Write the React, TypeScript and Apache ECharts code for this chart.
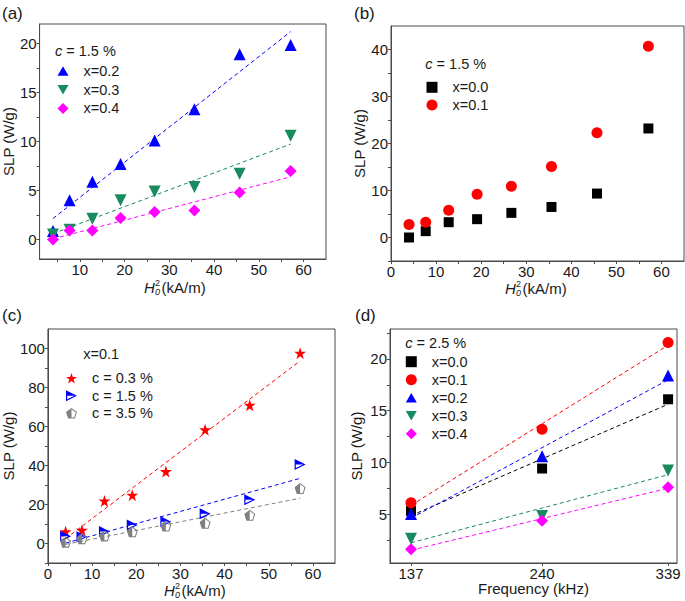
import React, { useEffect, useRef } from "react";
import * as echarts from "echarts";

// ---------- data ----------
const H2 = [4, 7.7, 12.8, 19.1, 26.7, 35.6, 45.7, 57.1];

// (a) c = 1.5 %
const aX02 = [0.85, 4.0, 5.9, 7.7, 10.1, 13.3, 18.9, 19.85];
const aX03 = [0.5, 1.0, 2.1, 4.0, 4.9, 5.35, 6.7, 10.6];
const aX04 = [0.0, 0.9, 0.9, 2.2, 2.8, 2.95, 4.8, 7.0];

// (b) c = 1.5 %
const bX00 = [0.0, 1.35, 3.26, 3.9, 5.24, 6.5, 9.35, 23.2];
const bX01 = [2.76, 3.26, 5.8, 9.2, 10.9, 15.1, 22.3, 40.7];

// (c) x = 0.1
const cC03 = [6.1, 6.8, 21.8, 24.8, 36.9, 58.3, 70.9, 97.6];
const cC15 = [3.7, 3.4, 6.1, 9.5, 11.2, 15.3, 22.4, 40.5];
const cC35 = [0.7, 2.4, 3.9, 6.0, 9.0, 10.4, 14.5, 28.2];

// (d) c = 2.5 %
const FREQ = [137, 240, 339];
const dX00 = [5.3, 9.4, 16.1];
const dX01 = [6.1, 13.2, 21.6];
const dX02 = [5.0, 10.6, 18.4];
const dX03 = [2.6, 4.8, 9.2];
const dX04 = [1.6, 4.35, 7.6];

// tick labels
const H_LABELS_A = [10, 20, 30, 40, 50, 60];
const H_LABELS = [0, 10, 20, 30, 40, 50, 60];
const H_TICKS = [0, 5, 10, 15, 20, 25, 30, 35, 40, 45, 50, 55, 60];
const YA_LABELS = [0, 5, 10, 15, 20];
const YA_TICKS = [-2.5, 0, 2.5, 5, 7.5, 10, 12.5, 15, 17.5, 20];
const YB_LABELS = [0, 10, 20, 30, 40];
const YB_TICKS = [-5, 0, 5, 10, 15, 20, 25, 30, 35, 40];
const YC_LABELS = [0, 20, 40, 60, 80, 100];
const YC_TICKS = [-10, 0, 10, 20, 30, 40, 50, 60, 70, 80, 90, 100];
const YD_LABELS = [5, 10, 15, 20];
const YD_TICKS = [2.5, 5, 7.5, 10, 12.5, 15, 17.5, 20, 22.5];

// ---------- styles ----------
const FONT = '"Liberation Sans", Arial, sans-serif';
const TXT = "#1a1a1a";
const FRAME = "#4a4a4a";
const BLUE = "#0000ff";
const GREEN = "#178a5e";
const MAGENTA = "#ff00ff";
const RED = "#ff0000";
const BLACK = "#000000";
const GRAY = "#808080";

const UP_TRI = "path://M6 0 L12 10.4 L0 10.4 Z";
const DOWN_TRI = "path://M0 0 L12 0 L6 10.4 Z";
const STAR =
  "path://M12 0 L14.9 8.6 L24 8.6 L16.6 14 L19.4 22.8 L12 17.4 L4.6 22.8 L7.4 14 L0 8.6 L9.1 8.6 Z";
const HALF_TRI =
  "path://M0 0 L12 6 L0 12 Z M1.3 2.3 L1.3 9.7 L9.3 6 Z M0 0 L12 6 L0 6 Z";
const HALF_PENT =
  "path://M6 0 L11.71 4.15 L9.53 10.85 L2.47 10.85 L0.29 4.15 Z " +
  "M6 1.3 L1.53 4.55 L3.25 9.8 L8.75 9.8 L10.47 4.55 Z " +
  "M6 0 L6 10.85 L2.47 10.85 L0.29 4.15 Z";

const ICONS: Record<string, string> = {
  "x=0.0": "rect",
  "x=0.1": "circle",
  "x=0.2": UP_TRI,
  "x=0.3": DOWN_TRI,
  "x=0.4": "diamond",
  "c = 0.3 %": STAR,
  "c = 1.5 %": HALF_TRI,
  "c = 3.5 %": HALF_PENT,
};

function zip(xs: number[], ys: number[]) {
  return xs.map((x, i) => [x, ys[i]]);
}

function fit(xs: number[], ys: number[]) {
  const n = xs.length;
  const mx = xs.reduce((s, v) => s + v, 0) / n;
  const my = ys.reduce((s, v) => s + v, 0) / n;
  let sxy = 0;
  let sxx = 0;
  for (let i = 0; i < n; i++) {
    sxy += (xs[i] - mx) * (ys[i] - my);
    sxx += (xs[i] - mx) * (xs[i] - mx);
  }
  const k = sxy / sxx;
  const x0 = xs[0];
  const x1 = xs[n - 1];
  return [
    [x0, my + k * (x0 - mx)],
    [x1, my + k * (x1 - mx)],
  ];
}

function axis(
  gridIndex: number,
  min: number,
  max: number,
  labels: number[],
  ticks: number[],
  extra: any = {}
) {
  return {
    type: "value",
    gridIndex,
    min,
    max,
    splitLine: { show: false },
    axisLine: { show: true, onZero: false, lineStyle: { color: FRAME, width: 1 } },
    axisTick: {
      show: true,
      inside: false,
      length: 3,
      customValues: ticks,
      lineStyle: { color: FRAME, width: 1 },
    },
    axisLabel: {
      customValues: labels,
      color: TXT,
      fontSize: 15,
      lineHeight: 14,
      fontFamily: FONT,
      margin: 3,
    },
    ...extra,
  };
}

function yName(gap: number) {
  return {
    name: "SLP (W/g)",
    nameLocation: "middle",
    nameRotate: 90,
    nameGap: gap,
    nameTextStyle: { color: TXT, fontSize: 15, fontFamily: FONT },
  };
}

function scatter(
  name: string,
  xi: number,
  xs: number[],
  ys: number[],
  size: number,
  color: string
) {
  return {
    type: "scatter",
    name,
    xAxisIndex: xi,
    yAxisIndex: xi,
    data: zip(xs, ys),
    symbol: ICONS[name],
    symbolSize: size,
    itemStyle: { color, opacity: 1 },
    z: 5,
  };
}

function fitLine(id: string, xi: number, xs: number[], ys: number[], color: string) {
  return {
    type: "line",
    name: id,
    xAxisIndex: xi,
    yAxisIndex: xi,
    data: fit(xs, ys),
    symbol: "none",
    silent: true,
    lineStyle: { color, width: 1, type: [4, 3] },
    z: 3,
  };
}

function hTitle(x: number, y: number) {
  return [
    {
      type: "text",
      x,
      y,
      style: {
        text: "H",
        font: `italic 15px ${FONT}`,
        lineHeight: 14,
        fill: TXT,
        textVerticalAlign: "middle",
      },
    },
    {
      type: "text",
      x: x + 11,
      y: y + 0.5,
      style: {
        text: "{s|2}\n{i|0}",
        font: `9px ${FONT}`,
        fill: TXT,
        textVerticalAlign: "middle",
        rich: {
          s: { fontSize: 9, fontFamily: FONT, fill: TXT, lineHeight: 9 },
          i: { fontSize: 9, fontFamily: FONT, fontStyle: "italic", fill: TXT, lineHeight: 9 },
        },
      },
    },
    {
      type: "text",
      x: x + 17.5,
      y,
      style: {
        text: "(kA/m)",
        font: `15px ${FONT}`,
        lineHeight: 14,
        fill: TXT,
        textVerticalAlign: "middle",
      },
    },
  ];
}

function label(text: string, x: number, y: number, size = 17) {
  return {
    type: "text",
    x,
    y,
    style: { text, font: `${size}px ${FONT}`, fill: TXT, textVerticalAlign: "middle" },
  };
}

function legTitle(text: string, x: number, y: number) {
  return {
    type: "text",
    x,
    y,
    style: {
      text,
      font: `14.5px ${FONT}`,
      fill: TXT,
      textVerticalAlign: "middle",
      rich: { i: { fontStyle: "italic", fontSize: 14.5, fontFamily: FONT, fill: TXT } },
    },
  };
}

function legend(names: string[], left: number, top: number, gap: number) {
  return {
    data: names.map((n) => ({ name: n, icon: ICONS[n] })),
    orient: "vertical",
    left,
    top,
    padding: 0,
    itemGap: gap,
    itemWidth: 11,
    itemHeight: 11,
    selectedMode: false,
    textStyle: {
      color: TXT,
      fontSize: 14.5,
      fontFamily: FONT,
      lineHeight: 16,
      padding: [0, 0, 0, 10],
    },
  };
}

export default function App() {
  const ref = useRef<HTMLDivElement>(null);
  useEffect(() => {
    if (!ref.current) return;
    const chart = echarts.init(ref.current, undefined, { renderer: "svg" });
    const gridBase = { show: true, borderColor: FRAME, borderWidth: 1, backgroundColor: "transparent" };
    const option: any = {
      animation: false,
      backgroundColor: "#ffffff",
      grid: [
        { ...gridBase, left: 35, top: 24, width: 291, height: 235 },
        { ...gridBase, left: 391, top: 26, width: 293, height: 235 },
        { ...gridBase, left: 42, top: 329, width: 293, height: 234 },
        { ...gridBase, left: 390, top: 329, width: 287, height: 234 },
      ],
      xAxis: [
        axis(0, 1, 65, H_LABELS_A, H_TICKS),
        axis(1, 0, 65, H_LABELS, H_TICKS),
        axis(2, 0, 65, H_LABELS, H_TICKS),
        axis(3, 120.5, 346, FREQ, FREQ, {
          name: "Frequency (kHz)",
          nameLocation: "middle",
          nameGap: 17,
          nameTextStyle: { color: TXT, fontSize: 15, lineHeight: 14, fontFamily: FONT },
        }),
      ],
      yAxis: [
        axis(0, -2, 22, YA_LABELS, YA_TICKS, yName(17)),
        axis(1, -5, 45, YB_LABELS, YB_TICKS, yName(18)),
        axis(2, -10, 110, YC_LABELS, YC_TICKS, yName(21)),
        axis(3, 0.26, 22.9, YD_LABELS, YD_TICKS, yName(26)),
      ],
      legend: [
        legend(["x=0.2", "x=0.3", "x=0.4"], 57.5, 63, 2.7),
        legend(["x=0.0", "x=0.1"], 426.5, 79.3, 1.7),
        legend(["c = 0.3 %", "c = 1.5 %", "c = 3.5 %"], 66, 370.3, 1.5),
        legend(["x=0.0", "x=0.1", "x=0.2", "x=0.3", "x=0.4"], 405.8, 353.7, 2),
      ],
      graphic: [
        label("(a)", 2, 13),
        label("(b)", 354, 13),
        label("(c)", 2, 315),
        label("(d)", 355, 315),
        legTitle("{i|c} = 1.5 %", 55, 50.7),
        legTitle("{i|c} = 1.5 %", 425.3, 64.3),
        legTitle("x=0.1", 83.3, 354),
        legTitle("{i|c} = 2.5 %", 405.3, 343.3),
        ...hTitle(144, 287),
        ...hTitle(505, 288),
        ...hTitle(164, 590),
      ],
      series: [
        fitLine("fa2", 0, H2, aX02, BLUE),
        fitLine("fa3", 0, H2, aX03, GREEN),
        fitLine("fa4", 0, H2, aX04, MAGENTA),
        scatter("x=0.2", 0, H2, aX02, 12, BLUE),
        scatter("x=0.3", 0, H2, aX03, 12, GREEN),
        scatter("x=0.4", 0, H2, aX04, 12, MAGENTA),

        scatter("x=0.0", 1, H2, bX00, 10, BLACK),
        scatter("x=0.1", 1, H2, bX01, 11, RED),

        fitLine("fc1", 2, H2, cC03, RED),
        fitLine("fc2", 2, H2, cC15, BLUE),
        fitLine("fc3", 2, H2, cC35, GRAY),
        scatter("c = 0.3 %", 2, H2, cC03, 12, RED),
        scatter("c = 1.5 %", 2, H2, cC15, 11, BLUE),
        scatter("c = 3.5 %", 2, H2, cC35, 11, GRAY),

        fitLine("fd0", 3, FREQ, dX00, BLACK),
        fitLine("fd1", 3, FREQ, dX01, RED),
        fitLine("fd2", 3, FREQ, dX02, BLUE),
        fitLine("fd3", 3, FREQ, dX03, GREEN),
        fitLine("fd4", 3, FREQ, dX04, MAGENTA),
        scatter("x=0.0", 3, FREQ, dX00, 10, BLACK),
        scatter("x=0.1", 3, FREQ, dX01, 11, RED),
        scatter("x=0.2", 3, FREQ, dX02, 12, BLUE),
        scatter("x=0.3", 3, FREQ, dX03, 12, GREEN),
        scatter("x=0.4", 3, FREQ, dX04, 12, MAGENTA),
      ],
    };
    chart.setOption(option);
    return () => chart.dispose();
  }, []);
  return (
    <div
      ref={ref}
      style={{ position: "fixed", left: 0, top: 0, width: 685, height: 601, background: "#fff" }}
    />
  );
}
